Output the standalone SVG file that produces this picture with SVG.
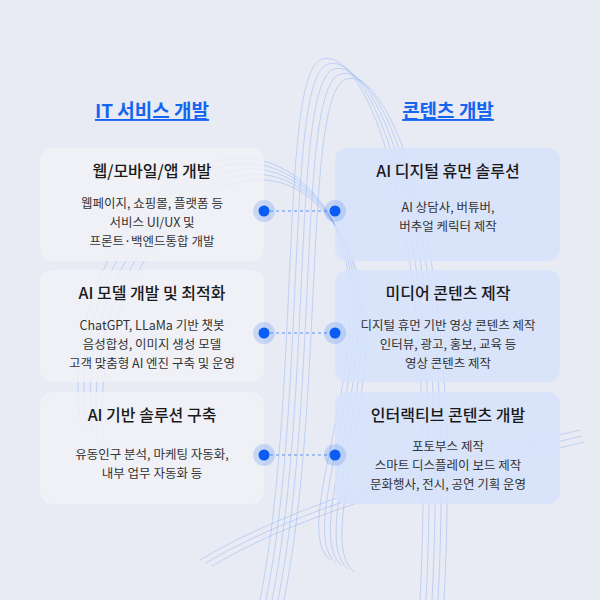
<svg xmlns="http://www.w3.org/2000/svg" width="600" height="600" viewBox="0 0 600 600">
<style>
text{font-family:"Noto Sans CJK KR","Noto Sans",sans-serif;text-anchor:middle}
.h{font-size:19px;font-weight:700;fill:#1565f0;text-decoration:underline}
.t{font-size:16px;font-weight:500;fill:#1a1a1a}
.d{font-size:12.5px;fill:#333}
.lc{fill:#f1f2f7;fill-opacity:.82}
.rc{fill:#d6e3fb;fill-opacity:.85}
.halo{fill:#1565f0;fill-opacity:.18}
.dot{fill:#0a5cf5}
.con{stroke:#5b8ff5;stroke-width:1.2;stroke-dasharray:3 3;fill:none}
.w{fill:none;stroke:#7fa8f5;stroke-opacity:.4;stroke-width:1}
</style>
<rect width="600" height="600" fill="#e8ebf4"/>
<g id="waves">
<path class="w" d="M80 420 C60 250 200 100 300 180 C420 280 280 520 330 560"/>
<path class="w" d="M86 426 C66 256 206 106 303 185 C423 286 286 523 336 563"/>
<path class="w" d="M92 432 C72 262 212 112 306 190 C426 292 292 526 342 566"/>
<path class="w" d="M98 438 C78 268 218 118 309 195 C429 298 298 529 348 569"/>
<path class="w" d="M104 444 C84 274 224 124 312 200 C432 304 304 532 354 572"/>
<path class="w" d="M260 600 C300 400 280 80 320 60 C360 40 440 200 420 600"/>
<path class="w" d="M266 600 C306 400 286 86 326 65 C366 45 446 206 426 600"/>
<path class="w" d="M272 600 C312 400 292 92 332 70 C372 50 452 212 432 600"/>
<path class="w" d="M278 600 C318 400 298 98 338 75 C378 55 458 218 438 600"/>
<path class="w" d="M284 600 C324 400 304 104 344 80 C384 60 464 224 444 600"/>
<path class="w" d="M200 560 C300 500 450 460 580 430"/>
<path class="w" d="M206 563 C306 503 456 466 582 436"/>
<path class="w" d="M212 566 C312 506 462 472 584 442"/>
</g>
<g id="headers">
<text class="h" x="152" y="118">IT 서비스 개발</text>
<text class="h" x="448" y="118">콘텐츠 개발</text>
</g>
<g id="connectors">
<line class="con" x1="264" y1="211" x2="335" y2="211"/>
<line class="con" x1="264" y1="333" x2="335" y2="333"/>
<line class="con" x1="264" y1="455" x2="335" y2="455"/>
</g>
<g id="n1"><rect class="lc" x="40" y="148" width="224" height="113" rx="12"/>
<text class="t" x="152" y="177">웹/모바일/앱 개발</text>
<text class="d" x="152" y="208">웹페이지, 쇼핑몰, 플랫폼 등</text>
<text class="d" x="152" y="227">서비스 UI/UX 및</text>
<text class="d" x="152" y="246">프론트·백엔드통합 개발</text></g>
<g id="n2"><rect class="lc" x="40" y="270" width="224" height="112" rx="12"/>
<text class="t" x="152" y="299">AI 모델 개발 및 최적화</text>
<text class="d" x="152" y="330">ChatGPT, LLaMa 기반 챗봇</text>
<text class="d" x="152" y="349">음성합성, 이미지 생성 모델</text>
<text class="d" x="152" y="368">고객 맞춤형 AI 엔진 구축 및 운영</text></g>
<g id="n3"><rect class="lc" x="40" y="392" width="224" height="112" rx="12"/>
<text class="t" x="152" y="421">AI 기반 솔루션 구축</text>
<text class="d" x="152" y="459">유동인구 분석, 마케팅 자동화,</text>
<text class="d" x="152" y="478">내부 업무 자동화 등</text></g>
<g id="n4"><rect class="rc" x="335" y="148" width="225" height="113" rx="12"/>
<text class="t" x="448" y="177">AI 디지털 휴먼 솔루션</text>
<text class="d" x="448" y="212">AI 상담사, 버튜버,</text>
<text class="d" x="448" y="231">버추얼 케릭터 제작</text></g>
<g id="n5"><rect class="rc" x="335" y="270" width="225" height="112" rx="12"/>
<text class="t" x="448" y="299">미디어 콘텐츠 제작</text>
<text class="d" x="448" y="330">디지털 휴먼 기반 영상 콘텐츠 제작</text>
<text class="d" x="448" y="349">인터뷰, 광고, 홍보, 교육 등</text>
<text class="d" x="448" y="368">영상 콘텐츠 제작</text></g>
<g id="n6"><rect class="rc" x="335" y="392" width="225" height="112" rx="12"/>
<text class="t" x="448" y="421">인터랙티브 콘텐츠 개발</text>
<text class="d" x="448" y="451">포토부스 제작</text>
<text class="d" x="448" y="470">스마트 디스플레이 보드 제작</text>
<text class="d" x="448" y="489">문화행사, 전시, 공연 기획 운영</text></g>
<g id="dots">
<circle class="halo" cx="264" cy="211" r="11"/><circle class="dot" cx="264" cy="211" r="5.5"/>
<circle class="halo" cx="335" cy="211" r="11"/><circle class="dot" cx="335" cy="211" r="5.5"/>
<circle class="halo" cx="264" cy="333" r="11"/><circle class="dot" cx="264" cy="333" r="5.5"/>
<circle class="halo" cx="335" cy="333" r="11"/><circle class="dot" cx="335" cy="333" r="5.5"/>
<circle class="halo" cx="264" cy="455" r="11"/><circle class="dot" cx="264" cy="455" r="5.5"/>
<circle class="halo" cx="335" cy="455" r="11"/><circle class="dot" cx="335" cy="455" r="5.5"/>
</g>
</svg>
